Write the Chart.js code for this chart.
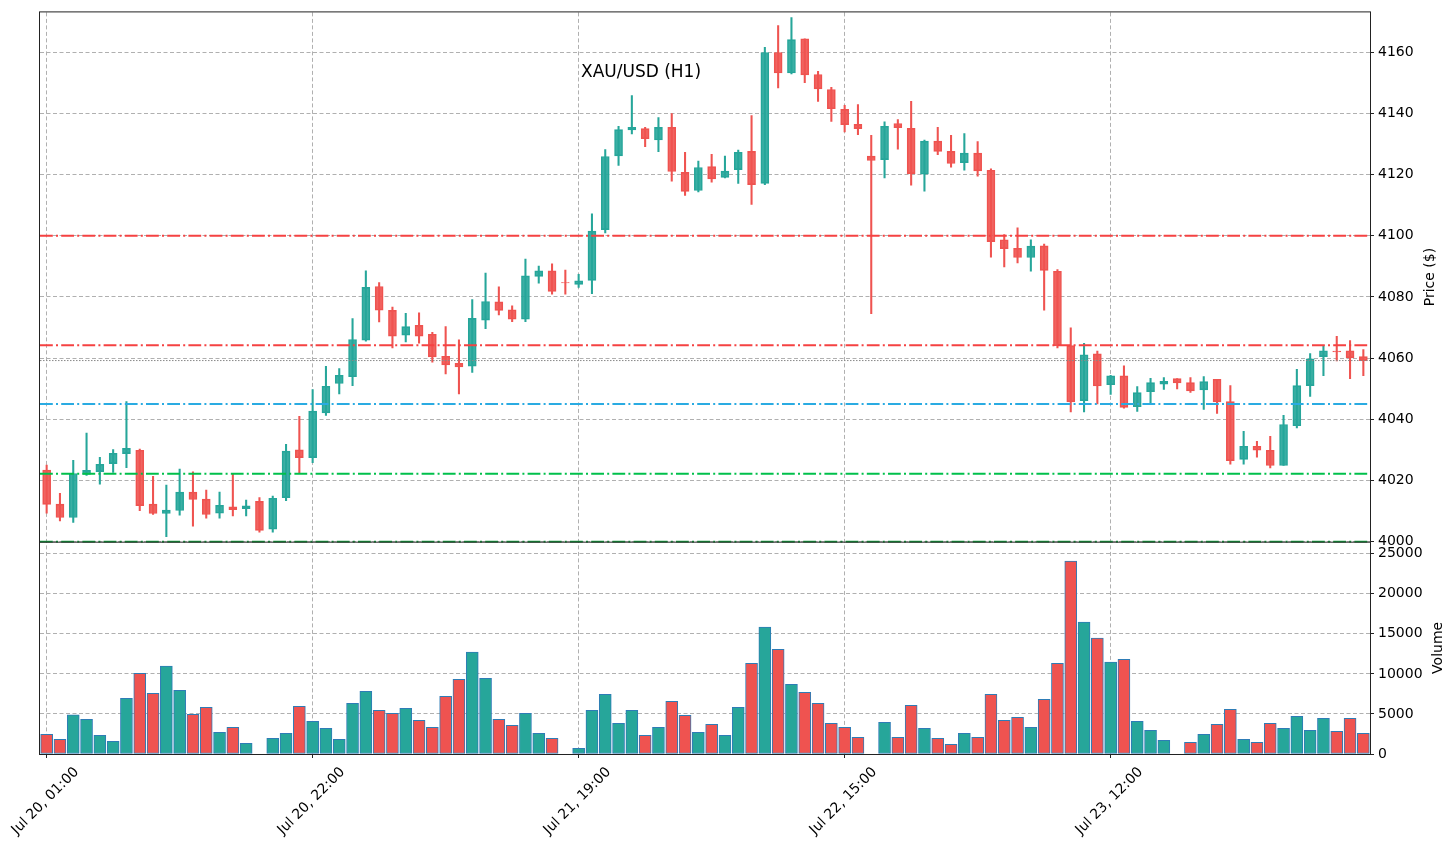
<!DOCTYPE html>
<html>
<head>
<meta charset="utf-8">
<title>XAU/USD (H1)</title>
<script src="https://cdn.jsdelivr.net/npm/chart.js@4.4.0/dist/chart.umd.min.js"></script>
<style>
	html, body { margin: 0; padding: 0; background: #fff; }
	#wrap { width: 1455px; height: 846px; }
</style>
</head>
<body>
<div id="wrap"><canvas id="chart" width="1455" height="846"></canvas></div>
<script>
// hourly candles
const opens = [4023.4, 4012.3, 4007.9, 4022.0, 4022.9, 4025.5, 4028.8, 4029.9, 4012.3, 4009.2,
	4010.2, 4016.2, 4013.9, 4009.3, 4011.4, 4010.8, 4013.2, 4004.1, 4014.4, 4030.0,
	4027.5, 4042.1, 4051.7, 4053.9, 4065.9, 4083.4, 4075.6, 4067.5, 4070.7, 4067.8,
	4060.6, 4058.3, 4057.4, 4072.4, 4078.4, 4075.8, 4072.7, 4086.7, 4088.5, 4084.7,
	4084.1, 4085.4, 4102.0, 4126.1, 4134.6, 4135.0, 4131.3, 4135.4, 4120.7, 4114.8,
	4122.6, 4119.1, 4121.6, 4127.6, 4117.1, 4159.9, 4153.2, 4164.4, 4152.7, 4147.8,
	4141.3, 4136.4, 4126.0, 4124.9, 4136.7, 4135.1, 4120.1, 4130.9, 4127.6, 4123.9,
	4127.0, 4121.4, 4098.7, 4095.9, 4092.9, 4096.7, 4088.4, 4064.1, 4046.1, 4061.4,
	4051.3, 4054.2, 4044.1, 4049.0, 4051.5, 4053.3, 4052.0, 4049.6, 4053.1, 4045.8,
	4026.9, 4031.2, 4029.9, 4024.9, 4037.9, 4051.0, 4060.5, 4062.3, 4062.4, 4060.5];
const highs = [4025.0, 4015.8, 4026.6, 4035.5, 4027.6, 4030.1, 4045.8, 4030.3, 4021.4, 4018.5,
	4023.7, 4022.8, 4016.9, 4016.2, 4022.0, 4013.6, 4014.4, 4014.9, 4031.8, 4041.0,
	4049.7, 4057.3, 4056.6, 4072.9, 4088.5, 4084.7, 4076.7, 4074.6, 4074.8, 4068.4,
	4070.3, 4066.0, 4079.1, 4087.8, 4083.3, 4077.1, 4092.4, 4090.1, 4090.8, 4088.8,
	4087.4, 4107.2, 4128.2, 4135.8, 4145.8, 4135.4, 4138.6, 4139.9, 4127.3, 4124.4,
	4126.6, 4126.0, 4128.0, 4139.3, 4161.6, 4168.7, 4171.3, 4164.4, 4153.7, 4148.5,
	4142.6, 4142.9, 4132.8, 4137.2, 4138.0, 4143.9, 4131.3, 4135.4, 4132.8, 4133.4,
	4130.8, 4121.9, 4100.4, 4102.6, 4098.7, 4097.3, 4088.9, 4069.9, 4064.8, 4062.3,
	4054.4, 4057.5, 4050.7, 4053.4, 4053.6, 4053.3, 4053.6, 4054.0, 4053.1, 4051.0,
	4036.1, 4032.8, 4034.4, 4041.3, 4056.3, 4061.5, 4064.1, 4067.1, 4065.7, 4062.8];
const lows = [4009.3, 4006.8, 4006.3, 4021.7, 4018.8, 4022.6, 4024.2, 4010.1, 4008.9, 4001.6,
	4008.7, 4005.1, 4007.7, 4007.7, 4008.4, 4008.4, 4003.1, 4003.1, 4013.4, 4022.3,
	4025.8, 4041.3, 4048.3, 4051.0, 4065.5, 4071.8, 4063.3, 4065.3, 4064.9, 4058.7,
	4054.8, 4048.3, 4055.3, 4069.6, 4074.1, 4071.9, 4071.9, 4084.5, 4080.9, 4080.9,
	4083.1, 4081.1, 4100.9, 4123.0, 4133.3, 4129.1, 4127.5, 4117.8, 4113.2, 4114.3,
	4117.5, 4118.9, 4117.1, 4110.2, 4116.7, 4148.3, 4152.9, 4150.0, 4143.9, 4137.4,
	4133.9, 4133.0, 4074.5, 4118.9, 4128.3, 4116.5, 4114.6, 4126.5, 4122.4, 4121.4,
	4119.5, 4093.0, 4089.8, 4091.1, 4088.4, 4075.7, 4063.3, 4042.4, 4042.4, 4045.0,
	4048.1, 4043.6, 4042.6, 4045.0, 4049.8, 4049.9, 4048.8, 4043.2, 4041.9, 4025.3,
	4025.3, 4027.6, 4024.1, 4024.9, 4037.2, 4047.5, 4054.3, 4059.1, 4053.3, 4054.3];
const closes = [4012.2, 4007.9, 4022.3, 4023.3, 4025.3, 4028.9, 4030.5, 4011.8, 4009.2, 4010.3,
	4016.2, 4013.8, 4008.9, 4011.9, 4010.5, 4011.7, 4003.7, 4014.2, 4029.6, 4027.5,
	4042.7, 4050.8, 4054.4, 4066.1, 4083.1, 4075.7, 4067.2, 4070.3, 4067.2, 4060.4,
	4057.8, 4057.1, 4073.0, 4078.5, 4075.6, 4072.7, 4086.9, 4088.5, 4081.8, 4084.6,
	4085.3, 4101.5, 4125.9, 4134.7, 4135.4, 4131.7, 4135.4, 4121.0, 4114.5, 4122.3,
	4118.6, 4121.1, 4127.3, 4116.7, 4159.9, 4153.2, 4164.1, 4152.6, 4148.0, 4141.5,
	4136.3, 4135.0, 4124.6, 4135.8, 4135.3, 4120.3, 4130.9, 4127.6, 4123.6, 4127.0,
	4121.2, 4098.1, 4095.8, 4092.9, 4096.6, 4088.7, 4064.1, 4045.7, 4061.1, 4050.9,
	4054.2, 4043.9, 4048.7, 4052.0, 4052.4, 4051.9, 4049.3, 4052.3, 4045.7, 4026.5,
	4031.2, 4029.9, 4024.9, 4038.3, 4051.0, 4059.8, 4062.4, 4062.0, 4060.1, 4059.2];
const volumes = [2460, 1830, 4875, 4330, 2330, 1580, 6960, 10080, 7580, 10960,
	7960, 4960, 5830, 2710, 3330, 1330, 0, 1960, 2580, 5960,
	4080, 3210, 1830, 6330, 7830, 5460, 5080, 5710, 4210, 3330,
	7210, 9330, 12710, 9460, 4330, 3580, 5080, 2580, 1960, 0,
	710, 5460, 7460, 3830, 5460, 2330, 3330, 6580, 4830, 2710,
	3710, 2330, 5830, 11330, 15830, 13080, 8710, 7710, 6330, 3830,
	3330, 2080, 0, 3960, 2080, 6080, 3210, 1960, 1210, 2580,
	2080, 7460, 4210, 4580, 3330, 6830, 11330, 24080, 16460, 14460,
	11460, 11830, 4080, 2960, 1710, 0, 1460, 2460, 3710, 5580,
	1830, 1460, 3830, 3210, 4710, 2960, 4460, 2830, 4460, 2580];

const tickLabels = ['Jul 20, 01:00', 'Jul 20, 22:00', 'Jul 21, 19:00', 'Jul 22, 15:00', 'Jul 23, 12:00'];
const tickEvery = 20;
const volumeTicks = [0, 5000, 10000, 15000, 20000, 25000];

// horizontal levels (resistance / support)
const levels = [4100, 4064.2, 4045.0, 4022.2, 4000];
const levelColors = ['#f54242', '#f54242', '#2aabe2', '#00c04b', '#109a3a'];

const UP = '#26a69a', DOWN = '#ef5350';
const isUp = closes.map((c, i) => c >= opens[i]);
const candleColor = isUp.map(u => u ? UP : DOWN);
const bodyFill = isUp.map(u => u ? 'rgba(38,166,154,0.9)' : 'rgba(239,83,80,0.9)');

Chart.defaults.font.family = "'DejaVu Sans', sans-serif";
Chart.defaults.font.size = 14;
Chart.defaults.color = '#000';

const overlay = {
	id: 'overlay',
	afterDatasetsDraw(chart) {
		const { ctx, chartArea: area } = chart;
		const y = chart.scales.y;
		ctx.save();
		ctx.beginPath();
		ctx.rect(area.left, y.top, area.right - area.left, y.bottom - y.top + 1);
		ctx.clip();

		// last close
		const lc = y.getPixelForValue(closes[closes.length - 1]);
		ctx.strokeStyle = '#888';
		ctx.lineWidth = 1;
		ctx.setLineDash([1.5, 1.5]);
		ctx.beginPath();
		ctx.moveTo(area.left, lc);
		ctx.lineTo(area.right, lc);
		ctx.stroke();

		ctx.lineWidth = 2;
		ctx.setLineDash([12.8, 3.2, 2, 3.2]);
		levels.forEach((v, i) => {
			const py = y.getPixelForValue(v);
			ctx.strokeStyle = levelColors[i];
			ctx.beginPath();
			ctx.moveTo(area.left, py);
			ctx.lineTo(area.right, py);
			ctx.stroke();
		});
		ctx.restore();
	},
	afterDraw(chart) {
		const { ctx, chartArea: area } = chart;
		const y = chart.scales.y, yv = chart.scales.yv;
		ctx.save();
		ctx.strokeStyle = '#222';
		ctx.lineWidth = 1;
		ctx.strokeRect(area.left - 0.5, area.top - 0.5, area.right - area.left + 1, area.bottom - area.top + 1);
		ctx.beginPath();
		ctx.moveTo(area.left, y.bottom + 0.5);
		ctx.lineTo(area.right, y.bottom + 0.5);
		ctx.stroke();

		ctx.fillStyle = '#000';
		ctx.font = "17px 'DejaVu Sans'";
		ctx.textBaseline = 'alphabetic';
		ctx.fillText('XAU/USD (H1)', 581, 77);

		ctx.font = "14px 'DejaVu Sans'";
		ctx.textAlign = 'center';
		ctx.textBaseline = 'middle';
		ctx.translate(1430, (y.top + y.bottom) / 2);
		ctx.rotate(-Math.PI / 2);
		ctx.fillText('Price ($)', 0, 0);
		ctx.rotate(Math.PI / 2);
		ctx.translate(8, (yv.top + yv.bottom) / 2 - (y.top + y.bottom) / 2);
		ctx.rotate(-Math.PI / 2);
		ctx.fillText('Volume', 0, 0);
		ctx.restore();
	}
};

const grid = {
	color: '#b0b0b0',
	tickColor: '#222',
	tickLength: 4,
	tickBorderDash: []
};

new Chart(document.getElementById('chart'), {
	type: 'bar',
	data: {
		labels: closes.map((c, i) => i),
		datasets: [
			{
				label: 'wick',
				data: lows.map((l, i) => [l, highs[i]]),
				yAxisID: 'y',
				backgroundColor: candleColor,
				barThickness: 1.4,
				grouped: false,
				order: 3
			},
			{
				label: 'body',
				data: opens.map((o, i) => [o, closes[i]]),
				yAxisID: 'y',
				backgroundColor: bodyFill,
				borderColor: candleColor,
				borderWidth: 1,
				borderSkipped: false,
				barThickness: 8,
				grouped: false,
				order: 2
			},
			{
				label: 'Volume',
				data: volumes.map(v => v || null),
				yAxisID: 'yv',
				backgroundColor: candleColor,
				borderColor: '#2e7cb6',
				borderWidth: 1,
				borderSkipped: false,
				barThickness: 12,
				grouped: false,
				order: 1
			}
		]
	},
	options: {
		responsive: false,
		animation: false,
		devicePixelRatio: 1,
		layout: { padding: { top: 10, left: 40, right: 0, bottom: 0 } },
		plugins: { legend: { display: false }, tooltip: { enabled: false } },
		scales: {
			x: {
				offset: true,
				grid: {
					...grid,
					offset: false,
					color: c => c.index % tickEvery === 0 ? '#b0b0b0' : 'rgba(0,0,0,0)',
					tickColor: c => c.index % tickEvery === 0 ? '#222' : 'rgba(0,0,0,0)'
				},
				border: { display: false, dash: [4, 2.5] },
				ticks: {
					autoSkip: false,
					minRotation: 45,
					maxRotation: 45,
					labelOffset: 30,
					padding: 6,
					callback: (v, i) => i % tickEvery === 0 ? tickLabels[i / tickEvery] : ''
				},
				afterFit: s => {
					s.height = 92;
					s.paddingLeft = 0;
					s.paddingRight = 0;
				}
			},
			y: {
				position: 'right',
				stack: 'panes',
				stackWeight: 531,
				min: 4000,
				max: 4173,
				grid: grid,
				border: { display: false, dash: [4, 2.5] },
				ticks: { stepSize: 20, includeBounds: false, padding: 4, callback: v => String(v) },
				afterFit: s => { s.width = 85; }
			},
			yv: {
				position: 'right',
				stack: 'panes',
				stackWeight: 213,
				min: 0,
				max: 26500,
				grid: grid,
				border: { display: false, dash: [4, 2.5] },
				ticks: { padding: 4, callback: v => String(v) },
				afterBuildTicks: s => { s.ticks = volumeTicks.map(v => ({ value: v })); },
				afterFit: s => { s.width = 85; }
			}
		}
	},
	plugins: [overlay]
});
</script>
</body>
</html>
